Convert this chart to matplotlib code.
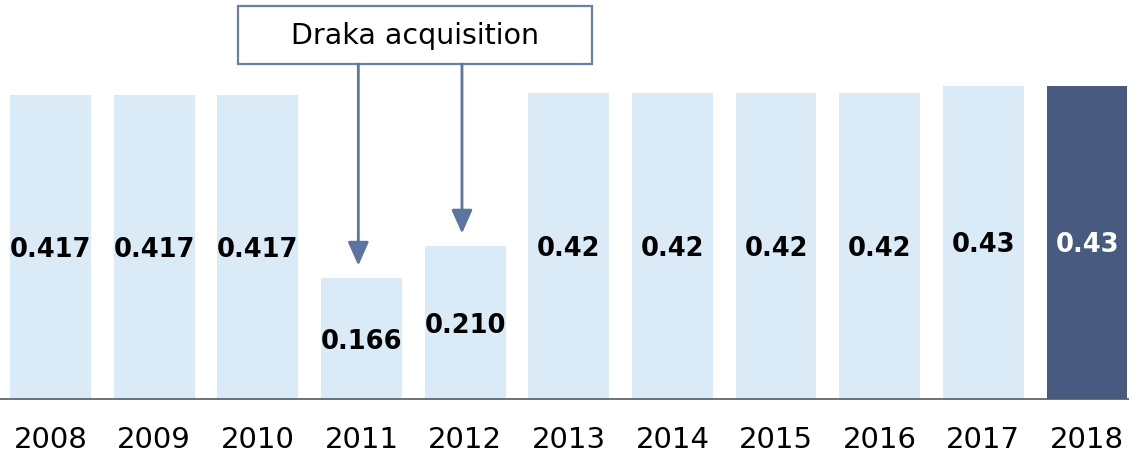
import matplotlib
matplotlib.use("Agg")
import matplotlib.pyplot as plt
from matplotlib.patches import Rectangle

years = ["2008", "2009", "2010", "2011", "2012", "2013", "2014", "2015", "2016", "2017", "2018"]
values = [0.417, 0.417, 0.417, 0.166, 0.210, 0.42, 0.42, 0.42, 0.42, 0.43, 0.43]
labels = ["0.417", "0.417", "0.417", "0.166", "0.210", "0.42", "0.42", "0.42", "0.42", "0.43", "0.43"]
annot_text = "Draka acquisition"
annot_years = ["2011", "2012"]

light = "#DAEAF7"
dark = "#495A80"
arrow_c = "#5E74A0"

plt.rcParams['font.family'] = ['DejaVu Sans']
fig = plt.figure(figsize=(11.29, 4.56), dpi=100)
ax = fig.add_axes([0, 56/456, 1, 400/456])

x = list(range(len(years)))
colors = [light] * (len(years) - 1) + [dark]
ax.bar(x, values, width=0.78, color=colors, edgecolor='none')

for i, (v, lab) in enumerate(zip(values, labels)):
    tc = 'white' if i == len(years) - 1 else 'black'
    ax.text(i, v / 2 - 0.003, lab, ha='center', va='center', fontsize=18.5,
            fontweight='bold', color=tc)

ax.set_xlim(-0.487, 10.405)
ax.set_ylim(0, 400/729)

for s in ['top', 'right', 'left']:
    ax.spines[s].set_visible(False)
ax.spines['bottom'].set_color('#505A6A')
ax.spines['bottom'].set_linewidth(1.2)
ax.set_yticks([])
ax.set_xticks(x)
ax.set_xticklabels(years, fontsize=21)
ax.tick_params(axis='x', length=0, pad=19)

# annotation box
box_bottom = 0.4595
box_top = 0.539
rect = Rectangle((1.809, box_bottom), 5.224 - 1.809, box_top - box_bottom,
                 facecolor='white', edgecolor='#6A7FA8', linewidth=1.6,
                 clip_on=False, zorder=3)
ax.add_patch(rect)
ax.text((1.809 + 5.224) / 2, (box_bottom + box_top) / 2, annot_text,
        ha='center', va='center', fontsize=20.5, zorder=4)

for yr in annot_years:
    i = years.index(yr)
    ax.annotate('', xy=(i - 0.03, values[i] + 0.017), xytext=(i - 0.03, box_bottom),
                arrowprops=dict(arrowstyle='-|>,head_length=0.9,head_width=0.4',
                                color=arrow_c, lw=2, shrinkA=0, shrinkB=0,
                                mutation_scale=16))

fig.savefig("out.png", dpi=100)
